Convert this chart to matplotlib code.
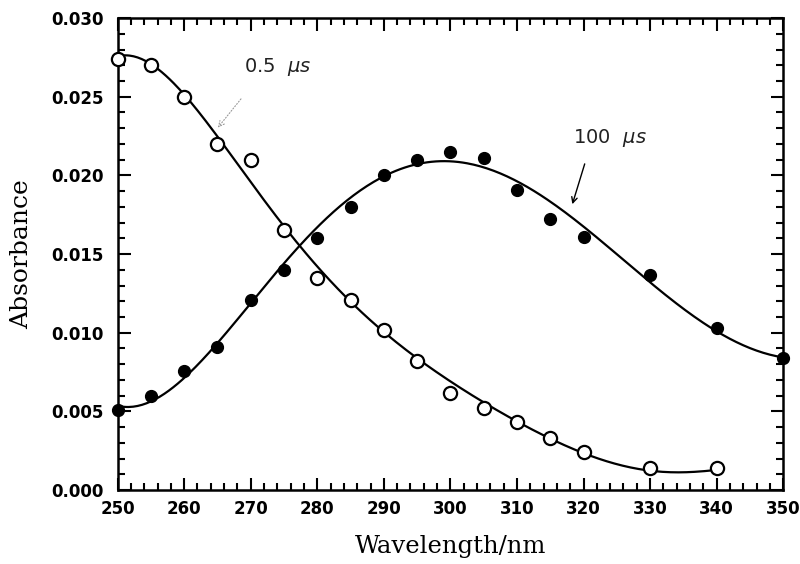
import numpy as np
import matplotlib
matplotlib.use("Agg")
import matplotlib.pyplot as plt
from matplotlib.ticker import MultipleLocator, FormatStrFormatter

# 0.5 us spectrum (open circles)
wl_early = [250, 255, 260, 265, 270, 275, 280, 285, 290, 295, 300, 305, 310, 315, 320, 330, 340]
abs_early = [0.0274, 0.0270, 0.0250, 0.0220, 0.0210, 0.0165, 0.0135, 0.0121, 0.0102, 0.0082,
             0.0062, 0.0052, 0.0043, 0.0033, 0.0024, 0.0014, 0.0014]

# 100 us spectrum (filled circles)
wl_late = [250, 255, 260, 265, 270, 275, 280, 285, 290, 295, 300, 305, 310, 315, 320, 330, 340, 350]
abs_late = [0.0051, 0.0060, 0.0076, 0.0091, 0.0121, 0.0140, 0.0160, 0.0180, 0.0200, 0.0210,
            0.0215, 0.0211, 0.0191, 0.0172, 0.0161, 0.0137, 0.0103, 0.0084]

# fitted curves
fit_wl_early = [250, 255, 260, 265, 270, 275, 280, 285, 290, 295, 300, 305, 310, 315, 320, 325, 330, 335, 340]
fit_early = [0.0276, 0.0270, 0.0251, 0.0226, 0.0197, 0.0167, 0.0139, 0.0120, 0.0103, 0.0085,
             0.0068, 0.0055, 0.0043, 0.0033, 0.0024, 0.0017, 0.0012, 0.0011, 0.0013]
fit_wl_late = [250, 255, 260, 265, 270, 275, 280, 285, 290, 295, 300, 305, 310, 315, 320, 325,
               330, 335, 340, 345, 350]
fit_late = [0.0053, 0.0058, 0.0071, 0.0092, 0.0118, 0.0145, 0.0168, 0.0187, 0.0199, 0.0206,
            0.0208, 0.0205, 0.0197, 0.0184, 0.0168, 0.0150, 0.0131, 0.0115, 0.0101, 0.0091, 0.0084]


def smooth(xs, ys, deg=7):
    # polynomial fit through the curve readings, drawn densely
    xs = np.asarray(xs, float)
    p = np.polyfit((xs - 300) / 50, ys, deg)
    xx = np.linspace(xs[0], xs[-1], 300)
    return xx, np.polyval(p, (xx - 300) / 50)


fig = plt.figure(figsize=(8, 5.64), dpi=100)
ax = fig.add_axes([0.147, 0.131, 0.832, 0.837])

ax.plot(*smooth(fit_wl_early, fit_early), color="black", lw=1.6)
ax.plot(*smooth(fit_wl_late, fit_late), color="black", lw=1.6)
ax.plot(wl_early, abs_early, "o", ms=9.5, mfc="white", mec="black", mew=1.6, clip_on=False, zorder=3)
ax.plot(wl_late, abs_late, "o", ms=8.5, mfc="black", mec="black", clip_on=False, zorder=3)

ax.set_xlim(250, 350)
ax.set_ylim(0, 0.030)
ax.xaxis.set_major_locator(MultipleLocator(10))
ax.xaxis.set_minor_locator(MultipleLocator(2))
ax.yaxis.set_major_locator(MultipleLocator(0.005))
ax.yaxis.set_minor_locator(MultipleLocator(0.001))
ax.yaxis.set_major_formatter(FormatStrFormatter("%.3f"))
ax.tick_params(which="both", direction="in", top=True, right=True, width=1.5)
ax.tick_params(which="major", length=9, labelsize=12)
ax.tick_params(axis="y", which="major", pad=10)
ax.tick_params(axis="x", which="major", pad=7)
ax.tick_params(which="minor", length=5)
for lab in ax.get_xticklabels() + ax.get_yticklabels():
    lab.set_fontweight("bold")
for s in ax.spines.values():
    s.set_linewidth(1.8)

ax.set_xlabel("Wavelength/nm", family="DejaVu Serif", fontsize=17.5, labelpad=12)
ax.set_ylabel("Absorbance", family="DejaVu Serif", fontsize=18, labelpad=13)

ax.text(274, 0.0269, r"0.5  $\mu s$", fontsize=14, ha="center", va="center", color="#222222")
ax.annotate("", xy=(264.8, 0.0229), xytext=(268.8, 0.0250),
            arrowprops=dict(arrowstyle="->", color="#999999", lw=0.8, linestyle=":"))
ax.text(324, 0.0224, r"100  $\mu s$", fontsize=14, ha="center", va="center", color="#222222")
ax.annotate("", xy=(318.2, 0.0180), xytext=(320.3, 0.0209),
            arrowprops=dict(arrowstyle="->", color="black", lw=1.0))

fig.savefig("out.png", dpi=100)
